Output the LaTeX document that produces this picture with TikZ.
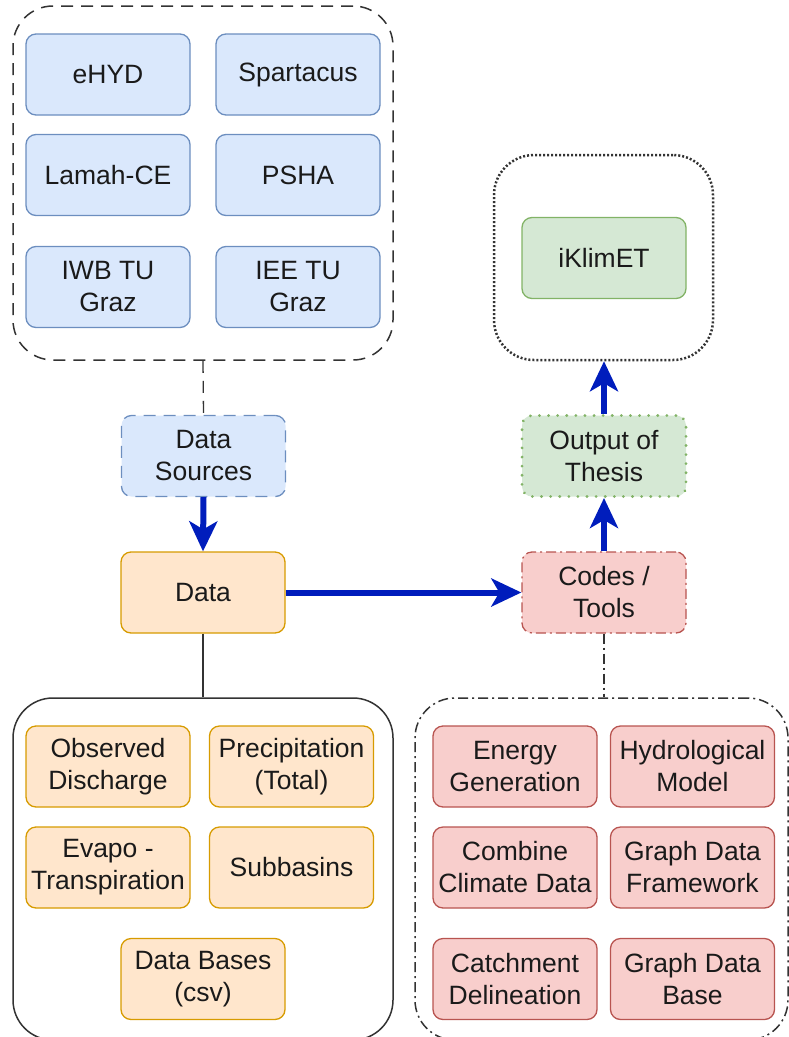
\documentclass[tikz,border=0pt]{standalone}
\usepackage{fontspec}
\setmainfont{Liberation Sans}
\usetikzlibrary{arrows.meta}
\definecolor{bfill}{HTML}{DAE8FC}\definecolor{bline}{HTML}{6C8EBF}
\definecolor{ofill}{HTML}{FFE6CC}\definecolor{oline}{HTML}{D79B00}
\definecolor{rfill}{HTML}{F8CECC}\definecolor{rline}{HTML}{B85450}
\definecolor{gfill}{HTML}{D5E8D4}\definecolor{gline}{HTML}{82B366}
\definecolor{arrblue}{HTML}{001DBC}
\definecolor{cline}{HTML}{333333}
\definecolor{txt}{HTML}{1A1A1A}
\begin{document}
\begin{tikzpicture}[x=1pt,y=-1pt,
  every node/.style={font=\fontsize{26.5}{32}\selectfont, text=txt, align=center, inner sep=0pt},
  box/.style={rounded corners=10pt, line width=1.3pt, minimum width=164pt, minimum height=81pt},
  bluebox/.style={box, fill=bfill, draw=bline},
  orbox/.style={box, fill=ofill, draw=oline},
  redbox/.style={box, fill=rfill, draw=rline},
  grbox/.style={box, fill=gfill, draw=gline},
  container/.style={rounded corners=40pt, line width=1.5pt, draw=cline},
  dashedpat/.style={dash pattern=on 12pt off 8pt},
  dashdotpat/.style={dash pattern=on 10pt off 4pt on 2pt off 4pt},
  bluearrow/.style={draw=arrblue, line width=6pt, -{Stealth[length=30pt,width=28pt,inset=8pt]}},
]
\useasboundingbox (0,0) rectangle (789,1037);

% containers
\node[container, dashedpat, minimum width=380pt, minimum height=354pt] (srcbox) at (203,183) {};
\node[container, dash pattern=on 2pt off 2pt, line width=2.5pt, minimum width=219pt, minimum height=205pt] (outbox) at (603.5,257.5) {};
\node[container, minimum width=380pt, minimum height=342pt] (databox) at (203,869) {};
\node[container, dashdotpat, minimum width=373pt, minimum height=342pt] (toolbox) at (601.5,869) {};

% data sources
\node[bluebox] (ehyd) at (108,74.5) {eHYD};
\node[bluebox] (spart) at (298,74.5) {Spartacus};
\node[bluebox] (lamah) at (108,175) {Lamah-CE};
\node[bluebox] (psha) at (298,175) {PSHA};
\node[bluebox] (iwb) at (108,287) {IWB TU\\Graz};
\node[bluebox] (iee) at (298,287) {IEE TU\\Graz};

% output
\node[grbox] (iklim) at (604,258) {iKlimET};

% central flow
\node[bluebox, dashedpat] (ds) at (203.5,456) {Data\\Sources};
\node[orbox] (data) at (203,592.5) {Data};
\node[redbox, dashdotpat] (codes) at (604,592.5) {Codes /\\Tools};
\node[grbox, line width=3pt, dash pattern=on 0.1pt off 9pt, line cap=round] (thesis) at (604,456) {Output of\\Thesis};

% data items
\node[orbox] (obs) at (108,766.5) {Observed\\Discharge};
\node[orbox] (prec) at (291.5,766.5) {Precipitation\\(Total)};
\node[orbox] (evap) at (108,867.5) {Evapo -\\Transpiration};
\node[orbox] (subb) at (291.5,867.5) {Subbasins};
\node[orbox] (dbs) at (203,979) {Data Bases\\(csv)};

% tools
\node[redbox] (energy) at (515,766.5) {Energy\\Generation};
\node[redbox] (hydro) at (692.5,766.5) {Hydrological\\Model};
\node[redbox] (comb) at (515,867.5) {Combine\\Climate Data};
\node[redbox] (gdf) at (692.5,867.5) {Graph Data\\Framework};
\node[redbox] (catch) at (515,979) {Catchment\\Delineation};
\node[redbox] (gdb) at (692.5,979) {Graph Data\\Base};

% connectors
\draw[cline, line width=1.3pt, dashedpat] (srcbox.south) -- (ds.north);
\draw[bluearrow] (ds.south) -- (data.north);
\draw[cline, line width=1.3pt] (data.south) -- (databox.north);
\draw[bluearrow] (data.east) -- (codes.west);
\draw[bluearrow] (codes.north) -- (thesis.south);
\draw[bluearrow] (thesis.north) -- (outbox.south -| thesis.north);
\draw[cline, line width=1.3pt, dashdotpat] (codes.south) -- (codes.south |- toolbox.north);
\end{tikzpicture}
\end{document}
